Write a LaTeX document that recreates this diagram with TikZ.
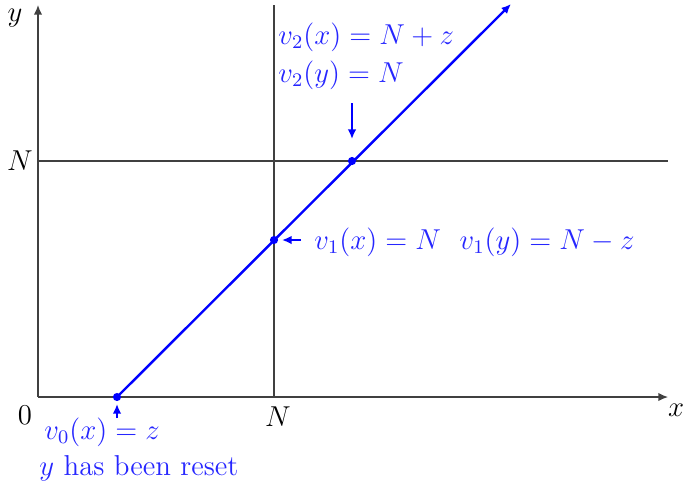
\documentclass[tikz,border=0pt]{standalone}
\usetikzlibrary{arrows.meta}
\begin{document}
\begin{tikzpicture}[x=0.417pt,y=-0.417pt,font=\large,
  axis/.style={draw=black!75,line width=0.55pt},
  grid/.style={draw=black!75,line width=0.5pt},
  bl/.style={draw=blue,line width=1pt},
  dotn/.style={circle,fill=blue,inner sep=0pt,minimum size=3.4pt},
  lbl/.style={text=blue!85!white,inner sep=0pt},
  tip/.style={-{Latex[length=4pt,width=3.5pt]}},
  smalltip/.style={-{Latex[length=4pt,width=3.6pt]}}]
\useasboundingbox (0,0) rectangle (683,491);
% coordinates
\coordinate (O) at (38,397);
\coordinate (ytop) at (38,5);
\coordinate (xend) at (668,397);
\coordinate (vtop) at (274,5);
\coordinate (vbot) at (274,397);
\coordinate (hl) at (38,161);
\coordinate (hr) at (668,161);
\coordinate (lend) at (511,4);
% axes and grid lines
\draw[axis,tip] (O) -- (ytop);
\draw[axis,tip] (O) -- (xend);
\draw[grid] (vbot) -- (vtop);
\draw[grid] (hl) -- (hr);
% axis labels
\node[inner sep=0pt] (ylab) at (15,18) {$y$};
\node[inner sep=0pt] (xlab) at (676,410) {$x$};
\node[inner sep=0pt] (zero) at (25,415) {$0$};
\node[inner sep=0pt] (Nx) at (278,417) {$N$};
\node[inner sep=0pt] (Ny) at (20,161) {$N$};
% points
\node[dotn] (p0) at (117,397) {};
\node[dotn] (p1) at (274,240) {};
\node[dotn] (p2) at (352,161) {};
\draw[bl,tip] (p0.center) -- (lend);
% labels
\node[lbl,anchor=west] (t0) at (44,432) {$v_0(x) = z$};
\node[lbl,anchor=west] (t0b) at (39,468) {$y$ has been reset};
\node[lbl,anchor=west] (t1) at (314,242) {$v_1(x) = N\ \ v_1(y) = N - z$};
\node[lbl,anchor=west] (t2a) at (278,37) {$v_2(x) = N + z$};
\node[lbl,anchor=west] (t2b) at (278,75) {$v_2(y) = N$};
% small arrows
\coordinate (a0s) at (117,418);
\coordinate (a0e) at (117,404);
\draw[bl,smalltip] (a0s) -- (a0e);
\coordinate (a1s) at (301,240);
\coordinate (a1e) at (282,240);
\draw[bl,smalltip] (a1s) -- (a1e);
\coordinate (a2s) at (352,103);
\coordinate (a2e) at (352,139);
\draw[bl,smalltip] (a2s) -- (a2e);
\end{tikzpicture}
\end{document}
